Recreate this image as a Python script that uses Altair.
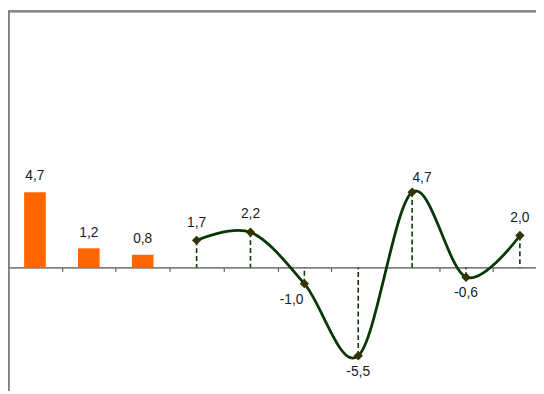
import altair as alt
import pandas as pd

# ---- data ----
categories = ["1", "2", "3", "4", "5", "6", "7", "8", "9", "10"]
bar_categories = ["1", "2", "3"]
bar_values = [4.7, 1.2, 0.8]
line_categories = ["4", "5", "6", "7", "8", "9", "10"]
line_values = [1.7, 2.2, -1.0, -5.5, 4.7, -0.6, 2.0]


def fmt(v):
    return f"{v:.1f}".replace(".", ",")


cat_index = {c: i for i, c in enumerate(categories)}
bars_df = pd.DataFrame({"cat": bar_categories, "idx": [cat_index[c] for c in bar_categories],
                        "v": bar_values, "label": [fmt(v) for v in bar_values]})
line_df = pd.DataFrame({"cat": line_categories, "idx": [cat_index[c] for c in line_categories],
                        "v": line_values, "label": [fmt(v) for v in line_values]})
# category boundaries for the axis ticks
boundaries = [i - 0.5 for i in range(len(categories) + 1)]

W, H = 536, 386          # visible plot area (the original chart is cropped on the right/bottom)
STEP = 54.7              # pixel width of one category
FONT = "Liberation Sans"
TXT = "#1a1a1a"
GREEN = "#063806"

X = alt.X(
    "idx:Q",
    scale=alt.Scale(domain=[-0.5, -0.5 + W / STEP], nice=False, zero=False, padding=0),
    axis=alt.Axis(values=boundaries, labels=False, title=None, grid=False,
                  domainColor="#808080", domainWidth=2, tickColor="#333333",
                  tickSize=4, tickWidth=1, offset=-(H - 260.4)),
)
Y = alt.Y("v:Q", scale=alt.Scale(domain=[-7.7, 16], nice=False, zero=False, padding=0),
          axis=None)

frame_left = alt.Chart(bars_df).mark_rule(color="#808080", strokeWidth=2).encode(
    x=alt.value(0.5), y=alt.value(0), y2=alt.value(H))
frame_top = alt.Chart(bars_df).mark_rule(color="#808080", strokeWidth=2).encode(
    y=alt.value(0.5), x=alt.value(0), x2=alt.value(W))

bars = alt.Chart(bars_df).mark_bar(color="#FF6600", width=22).encode(x=X, y=Y, y2=alt.datum(0))

drops = alt.Chart(line_df).mark_rule(color=GREEN, strokeWidth=1.6, strokeDash=[5, 3]).encode(
    x=X, y=Y, y2=alt.datum(0))

line = alt.Chart(line_df).mark_line(color=GREEN, strokeWidth=2.8, interpolate="cardinal").encode(
    x=X, y=Y)

pts = alt.Chart(line_df).mark_point(shape="diamond", filled=True, size=90, color="#333300",
                                    opacity=1).encode(x=X, y=Y)

text_style = dict(font=FONT, fontSize=14, color=TXT, baseline="alphabetic")

bar_text = alt.Chart(bars_df).mark_text(dy=-12, **text_style).encode(x=X, y=Y, text="label:N")
pos_text = alt.Chart(line_df).transform_filter("datum.v >= 0 && datum.v < 4").mark_text(
    dy=-14, **text_style).encode(x=X, y=Y, text="label:N")
peak_text = alt.Chart(line_df).transform_filter("datum.v >= 4").mark_text(
    dy=-10, dx=10, **text_style).encode(x=X, y=Y, text="label:N")
neg_text = alt.Chart(line_df).transform_filter("datum.v < 0 && datum.v != -1").mark_text(
    dy=20, **text_style).encode(x=X, y=Y, text="label:N")
left_text = alt.Chart(line_df).transform_filter("datum.v == -1").mark_text(
    dy=21, dx=-13, **text_style).encode(x=X, y=Y, text="label:N")

chart = alt.layer(
    frame_left, frame_top, bars, drops, line, pts,
    bar_text, pos_text, peak_text, neg_text, left_text
).properties(
    width=W, height=H, autosize=alt.AutoSizeParams(type="none"), padding=0,
    background="white"
).configure_view(stroke=None)

chart.save("out.html", embed_options={"renderer": "svg", "actions": False})
